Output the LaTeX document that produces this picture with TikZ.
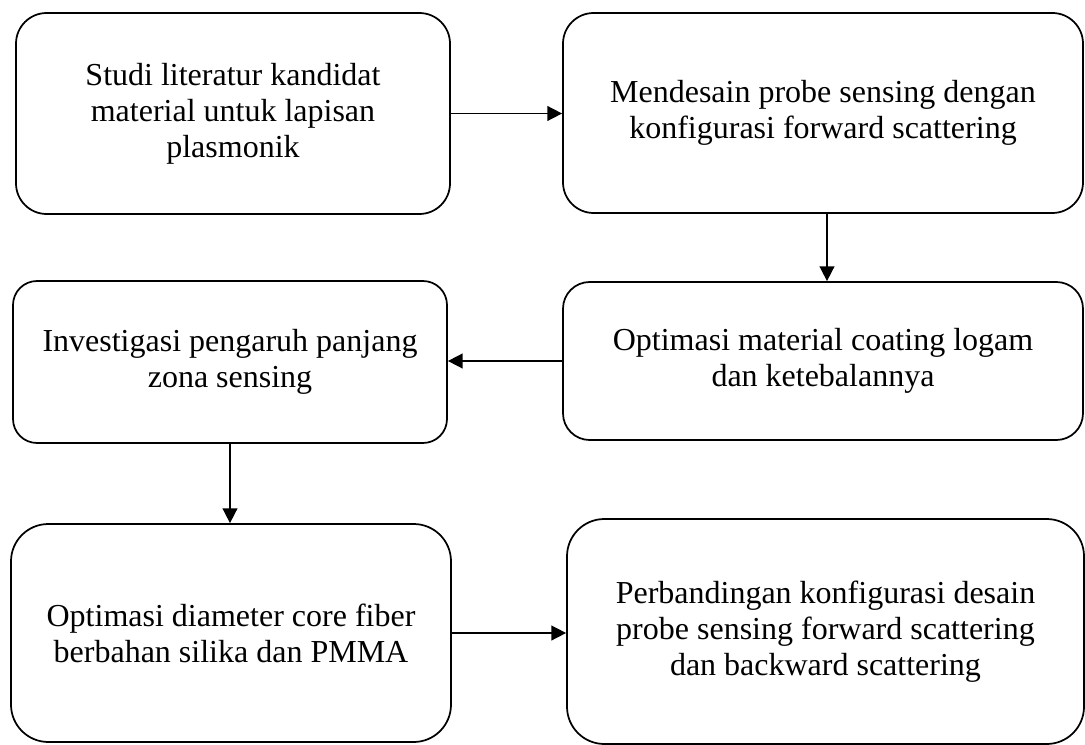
\documentclass[tikz,border=0pt]{standalone}
\usepackage{fontspec}
\setmainfont{Liberation Serif}
\usetikzlibrary{arrows.meta}

\tikzset{every picture/.style={line width=1.3pt}}
\tikzset{stage/.style={draw, align=center, inner sep=0pt, font=\fontsize{24}{27}\selectfont},
         flow/.style={-{Triangle[length=11pt,width=11pt]}, line width=1.2pt}}

\begin{document}
\begin{tikzpicture}[x=0.75pt,y=0.75pt,yscale=-1,xscale=1]
\useasboundingbox (0,0) rectangle (1085,745);

%Shape: Rounded Rect [id:studi]
\node[stage, rounded corners=23pt, minimum width=325.5pt, minimum height=150.75pt] (studi) at (233,113.5) {Studi literatur kandidat\\material untuk lapisan\\plasmonik};
%Shape: Rounded Rect [id:mendesain]
\node[stage, rounded corners=23pt, minimum width=390pt, minimum height=150pt] (mendesain) at (823,113) {Mendesain probe sensing dengan\\konfigurasi forward scattering};
%Shape: Rounded Rect [id:coating]
\node[stage, rounded corners=20pt, minimum width=390pt, minimum height=118.5pt] (coating) at (823,361) {Optimasi material coating logam\\dan ketebalannya};
%Shape: Rounded Rect [id:investigasi]
\node[stage, rounded corners=18pt, minimum width=325.5pt, minimum height=121.5pt] (investigasi) at (230,362) {Investigasi pengaruh panjang\\zona sensing};
%Shape: Rounded Rect [id:diameter]
\node[stage, rounded corners=28pt, minimum width=330pt, minimum height=163.5pt] (diameter) at (231,633) {Optimasi diameter core fiber\\berbahan silika dan PMMA};
%Shape: Rounded Rect [id:perbandingan]
\node[stage, rounded corners=28pt, minimum width=387.75pt, minimum height=168.75pt] (perbandingan) at (825.5,631.5) {Perbandingan konfigurasi desain\\probe sensing forward scattering\\dan backward scattering};

%Straight Lines with arrows
\draw[flow] (studi.east) -- (studi.east -| mendesain.west);
\draw[flow] ([xshift=3pt]mendesain.south) -- ([xshift=3pt]mendesain.south |- coating.north);
\draw[flow] (coating.west) -- (coating.west -| investigasi.east);
\draw[flow] (investigasi.south) -- (investigasi.south |- diameter.north);
\draw[flow] (diameter.east) -- (diameter.east -| perbandingan.west);

\end{tikzpicture}
\end{document}
